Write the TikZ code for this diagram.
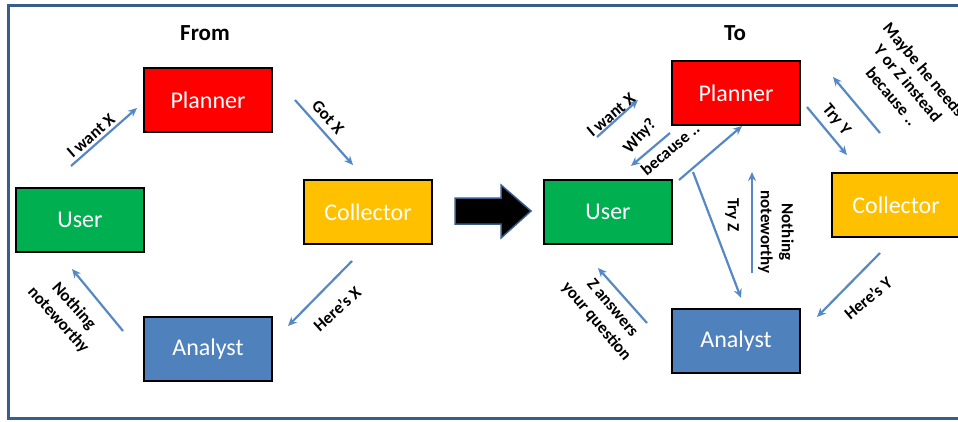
\documentclass[tikz,border=0pt]{standalone}
\usepackage{fontspec}
\setmainfont{Carlito}
\usetikzlibrary{arrows.meta, positioning}

\definecolor{plannerred}{RGB}{255,0,0}
\definecolor{usergreen}{RGB}{0,176,80}
\definecolor{collyellow}{RGB}{255,192,0}
\definecolor{analystblue}{RGB}{79,129,189}
\definecolor{flowblue}{RGB}{86,136,196}
\definecolor{framblue}{RGB}{56,93,138}

\begin{document}
\begin{tikzpicture}[x=1pt, y=-1pt,
  box/.style={draw=black, line width=2.5pt, minimum width=128pt, minimum height=64pt,
    text=white, font=\fontsize{24}{28}\selectfont},
  flow/.style={draw=flowblue, line width=2.2pt, -{Stealth[length=9pt,width=8pt]}},
  lbl/.style={font=\bfseries\fontsize{17}{21}\selectfont, align=center, inner sep=0pt},
  title/.style={font=\bfseries\fontsize{23}{27}\selectfont}]
\useasboundingbox (0,0) rectangle (958,421);
\clip (0,0) rectangle (958,421);

% Frame round both halves
\draw[framblue, line width=3pt] (8,5) rectangle (990,418);

% Titles
\node[title] (fromT) at (205,33) {From};
\node[title] (toT) at (735,33) {To};

% "From" side boxes
\node[box, fill=plannerred] (plannerF) at (208,100) {Planner};
\node[box, fill=usergreen] (userF) at (80,220) {User};
\node[box, fill=collyellow] (collectorF) at (368,212) {Collector};
\node[box, fill=analystblue] (analystF) at (208,349) {Analyst};

% "To" side boxes
\node[box, fill=plannerred] (plannerT) at (736,93) {Planner};
\node[box, fill=usergreen] (userT) at (608,212) {User};
\node[box, fill=collyellow] (collectorT) at (896,205) {Collector};
\node[box, fill=analystblue] (analystT) at (736,341) {Analyst};

% Big arrow between the two
\draw[fill=black, draw=framblue, line width=1.5pt]
  (455,198) -- (501,198) -- (501,185) -- (531,211) -- (501,238) -- (501,224) -- (455,224) -- cycle;

% Arrow ends, "From" side
\coordinate (wantF-s) at (71,166);   \coordinate (wantF-e) at (137,108);
\coordinate (gotF-s) at (295,100);   \coordinate (gotF-e) at (353,165);
\coordinate (hereF-s) at (352,261);  \coordinate (hereF-e) at (288,326);
\coordinate (nothF-s) at (123,331);  \coordinate (nothF-e) at (72,269);

% Arrow ends, "To" side
\coordinate (wantT-s) at (597,137);  \coordinate (wantT-e) at (638,100);
\coordinate (whyT-s) at (670,133);   \coordinate (whyT-e) at (631,166);
\coordinate (upT-s) at (679,180);    \coordinate (upT-e) at (742,126);
\coordinate (tryZ-s) at (693,172);   \coordinate (tryZ-e) at (741,298);
\coordinate (nothT-s) at (752,273);  \coordinate (nothT-e) at (752,172);
\coordinate (tryY-s) at (807,107);   \coordinate (tryY-e) at (847,155);
\coordinate (maybe-s) at (880,133);  \coordinate (maybe-e) at (833,77);
\coordinate (hereY-s) at (880,253);  \coordinate (hereY-e) at (817,317);
\coordinate (zans-s) at (647,323);   \coordinate (zans-e) at (598,268);

\foreach \a in {wantF,gotF,hereF,nothF,wantT,whyT,upT,tryZ,nothT,tryY,maybe,hereY,zans}
  \draw[flow] (\a-s) -- (\a-e);

% Labels
\node[lbl, rotate=41] (lwantF) at (91,136) {I want X};
\node[lbl, rotate=-48] (lgotF) at (328,117) {Got X};
\node[lbl, rotate=42] (lhereF) at (337,309) {Here's X};
\node[lbl, rotate=-48] (lnothF) at (66,313) {Nothing\\noteworthy};
\node[lbl, rotate=40] (lwantT) at (611,115) {I want X};
\node[lbl, rotate=48] (lwhyT) at (640,136) {Why?};
\node[lbl, rotate=40] (lbecT) at (670,149) {because ..};
\node[lbl, rotate=-90] (ltryZ) at (732,215) {Try Z};
\node[lbl, rotate=-90] (lnothT) at (776,232) {Nothing\\noteworthy};
\node[lbl, rotate=-50] (ltryY) at (836,120) {Try Y};
\node[lbl, rotate=-50] (lmaybe) at (908,83) {Maybe he needs\\Y or Z instead\\because ..};
\node[lbl, rotate=40] (lhereY) at (868,298) {Here's Y};
\node[lbl, rotate=-50] (lzans) at (604,315) {Z answers\\your question};
\end{tikzpicture}
\end{document}
